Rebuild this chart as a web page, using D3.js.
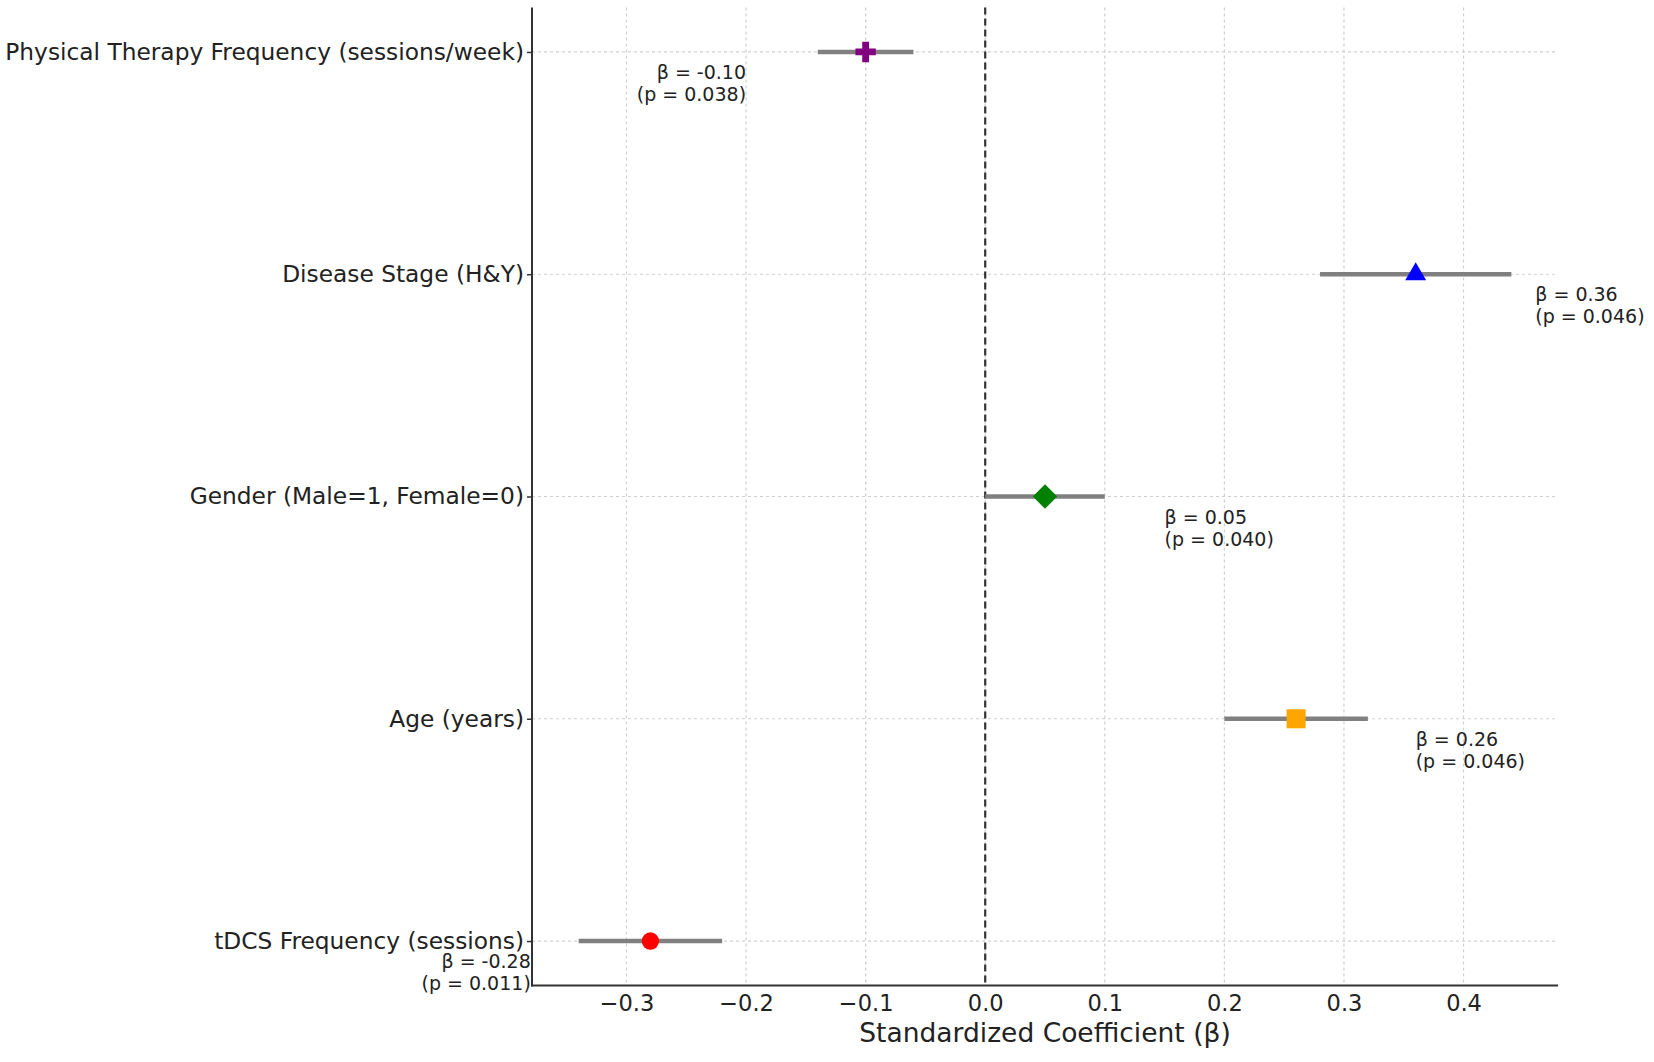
<!DOCTYPE html>
<html>
<head>
<meta charset="utf-8">
<script src="https://cdn.jsdelivr.net/npm/d3@7"></script>
<style>
  body { margin: 0; background: #fff; }
  text { font-family: "DejaVu Sans", sans-serif; }
</style>
</head>
<body>
<div id="chart"></div>
<script>

// rows bottom -> top
const categories = ['tDCS Frequency (sessions)', 'Age (years)', 'Gender (Male=1, Female=0)', 'Disease Stage (H&Y)', 'Physical Therapy Frequency (sessions/week)']
const betas = [-0.28, 0.26, 0.05, 0.36, -0.10]
const ciLow = [-0.34, 0.20, 0.00, 0.28, -0.14]
const ciHigh = [-0.22, 0.32, 0.10, 0.44, -0.06]
const pValues = [0.011, 0.046, 0.040, 0.046, 0.038]
const markerColors = ['red', 'orange', 'green', 'blue', 'purple']
const markerKinds = ['circle', 'square', 'diamond', 'triangle', 'plus']
const xTicks = [-0.3, -0.2, -0.1, 0.0, 0.1, 0.2, 0.3, 0.4]

const W = 1654, H = 1062
const plotL = 532, plotR = 1558, plotT = 7.5, plotB = 985.5

const svg = d3.select('#chart').append('svg')
    .attr('width', W)
    .attr('height', H)

svg.append('rect').attr('width', W).attr('height', H).attr('fill', '#fff')

const x = d3.scaleLinear().domain([-0.379, 0.479]).range([plotL, plotR])
const y = d3.scaleLinear().domain([-0.2, 4.2]).range([plotB, plotT])

const rows = categories.map((c, i) => ({
    name: c, beta: betas[i], lo: ciLow[i], hi: ciHigh[i], p: pValues[i],
    color: markerColors[i], kind: markerKinds[i], idx: i
}))

// grid
const grid = svg.append('g')
grid.selectAll('line.vg').data(xTicks).enter().append('line')
    .attr('x1', d => x(d)).attr('x2', d => x(d))
    .attr('y1', plotT).attr('y2', plotB)
    .attr('stroke', '#cfcfcf').attr('stroke-width', 1.2)
    .attr('stroke-dasharray', '3,3')
grid.selectAll('line.hg').data(rows).enter().append('line')
    .attr('x1', plotL).attr('x2', plotR)
    .attr('y1', d => y(d.idx)).attr('y2', d => y(d.idx))
    .attr('stroke', '#cfcfcf').attr('stroke-width', 1.2)
    .attr('stroke-dasharray', '3,3')

// zero reference
svg.append('line')
    .attr('x1', x(0)).attr('x2', x(0))
    .attr('y1', plotT).attr('y2', plotB)
    .attr('stroke', '#333').attr('stroke-width', 2.2)
    .attr('stroke-dasharray', '7,4')

// confidence intervals
svg.selectAll('line.ci').data(rows).enter().append('line')
    .attr('x1', d => x(d.lo)).attr('x2', d => x(d.hi))
    .attr('y1', d => y(d.idx)).attr('y2', d => y(d.idx))
    .attr('stroke', '#808080').attr('stroke-width', 4.5)

// markers
const symbolFor = {
    circle: d3.symbol(d3.symbolCircle, 238),
    square: d3.symbol(d3.symbolSquare, 361),
    diamond: d3.symbol(d3.symbolSquare, 300),
    triangle: d3.symbol(d3.symbolTriangle, 190),
    plus: d3.symbol(d3.symbolCross, 230)
}
svg.selectAll('path.mk').data(rows).enter().append('path')
    .attr('d', d => symbolFor[d.kind]())
    .attr('transform', d => `translate(${x(d.beta)},${y(d.idx)})` + (d.kind === 'diamond' ? ' rotate(45)' : ''))
    .attr('fill', d => d.color)

// annotations
const notes = svg.selectAll('text.note').data(rows).enter().append('text')
    .attr('x', d => x(d.beta + (d.beta < 0 ? -0.1 : 0.1)))
    .attr('y', d => y(d.idx) + 27)
    .attr('text-anchor', d => d.beta < 0 ? 'end' : 'start')
    .attr('font-size', 19)
    .attr('fill', '#222')
notes.append('tspan').text(d => 'β = ' + d.beta.toFixed(2))
notes.append('tspan')
    .attr('x', d => x(d.beta + (d.beta < 0 ? -0.1 : 0.1)))
    .attr('dy', 22)
    .text(d => '(p = ' + d.p.toFixed(3) + ')')

// axes
const xAxis = svg.append('g')
    .attr('transform', `translate(0,${plotB})`)
    .call(d3.axisBottom(x).tickValues(xTicks).tickSize(0).tickPadding(10)
        .tickFormat(d => d3.format('.1f')(d).replace('-', '−')))
xAxis.select('.domain').remove()
xAxis.selectAll('text').attr('font-size', 22.5).attr('fill', '#222')

const yAxis = svg.append('g')
    .attr('transform', `translate(${plotL},0)`)
    .call(d3.axisLeft(y).tickValues(rows.map(r => r.idx)).tickSize(5).tickPadding(3)
        .tickFormat(i => categories[i]))
yAxis.select('.domain').remove()
yAxis.selectAll('line').attr('stroke', '#333').attr('stroke-width', 1.5)
yAxis.selectAll('text').attr('font-size', 23.3).attr('fill', '#222')

// spines
svg.append('line')
    .attr('x1', plotL).attr('x2', plotL).attr('y1', plotT).attr('y2', plotB + 1)
    .attr('stroke', '#333').attr('stroke-width', 2)
svg.append('line')
    .attr('x1', plotL - 1).attr('x2', plotR).attr('y1', plotB).attr('y2', plotB)
    .attr('stroke', '#333').attr('stroke-width', 2)

svg.append('text')
    .attr('x', (plotL + plotR) / 2)
    .attr('y', 1042)
    .attr('text-anchor', 'middle')
    .attr('font-size', 26.5)
    .attr('fill', '#222')
    .text('Standardized Coefficient (β)')

</script>
</body>
</html>
